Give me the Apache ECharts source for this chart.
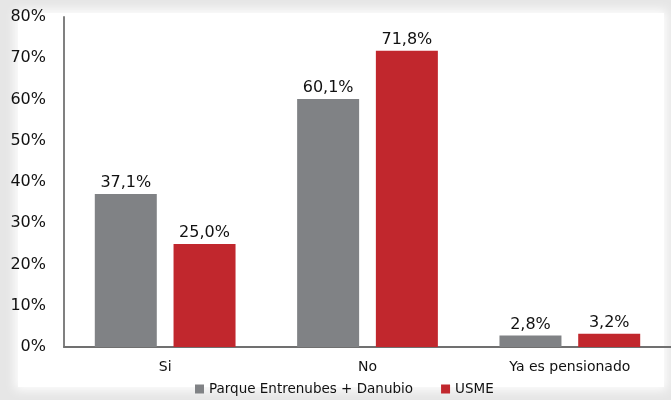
<!DOCTYPE html>
<html>
<head>
<meta charset="utf-8">
<script src="https://cdn.jsdelivr.net/npm/echarts@6/dist/echarts.min.js"></script>
<style>
  html, body { margin: 0; padding: 0; background: #e6e6e6; }
  #wrap { width: 671px; height: 400px; position: relative; background: #e6e6e6; overflow: hidden; }
  #bg { position: absolute; left: 18px; top: 13px; width: 646px; height: 374px; background: #fff; box-shadow: 0 0 10px 3px #fff; }
  #chart { position: absolute; left: 0; top: 0; width: 671px; height: 400px; }
</style>
</head>
<body>
<div id="wrap"><div id="bg"></div><div id="chart"></div></div>
<script>
const categories = ['Si', 'No', 'Ya es pensionado'];
const seriesNames = ['Parque Entrenubes + Danubio', 'USME'];
const parqueValues = [37.1, 60.1, 2.8];
const usmeValues = [25.0, 71.8, 3.2];
const yTicks = [0, 10, 20, 30, 40, 50, 60, 70, 80];

const chart = echarts.init(document.getElementById('chart'));
const fontFamily = 'DejaVu Sans, Verdana, sans-serif';
const labelFmt = p => p.value.toFixed(1).replace('.', ',') + '%';
chart.setOption({
  backgroundColor: 'transparent',
  animation: false,
  textStyle: { fontFamily },
  grid: { left: 64, top: 17, width: 612, height: 330, containLabel: false },
  legend: {
    top: 382, left: 195, padding: 0,
    itemWidth: 9, itemHeight: 9, itemGap: 28,
    icon: 'rect',
    textStyle: { fontSize: 13.5, color: '#111', fontFamily },
    data: seriesNames
  },
  xAxis: {
    type: 'category', data: categories,
    axisLine: { lineStyle: { color: '#707070', width: 2 } },
    axisTick: { show: false },
    axisLabel: { fontSize: 14, color: '#111', margin: 13, fontFamily }
  },
  yAxis: {
    type: 'value', min: yTicks[0], max: yTicks[yTicks.length - 1], interval: 10,
    axisLine: { show: true, lineStyle: { color: '#808080', width: 2 } },
    axisTick: { show: false },
    splitLine: { show: false },
    axisLabel: { fontSize: 16, color: '#111', margin: 18, formatter: v => v + '%', fontFamily }
  },
  series: [
    {
      name: seriesNames[0], type: 'bar', data: parqueValues,
      barWidth: 62, barGap: '27%',
      itemStyle: { color: '#808285' },
      label: { show: true, position: 'top', fontSize: 16, color: '#111', distance: 3, formatter: labelFmt, fontFamily }
    },
    {
      name: seriesNames[1], type: 'bar', data: usmeValues,
      barWidth: 62,
      itemStyle: { color: '#C1272D' },
      label: { show: true, position: 'top', fontSize: 16, color: '#111', distance: 3, formatter: labelFmt, fontFamily }
    }
  ]
});
</script>
</body>
</html>
